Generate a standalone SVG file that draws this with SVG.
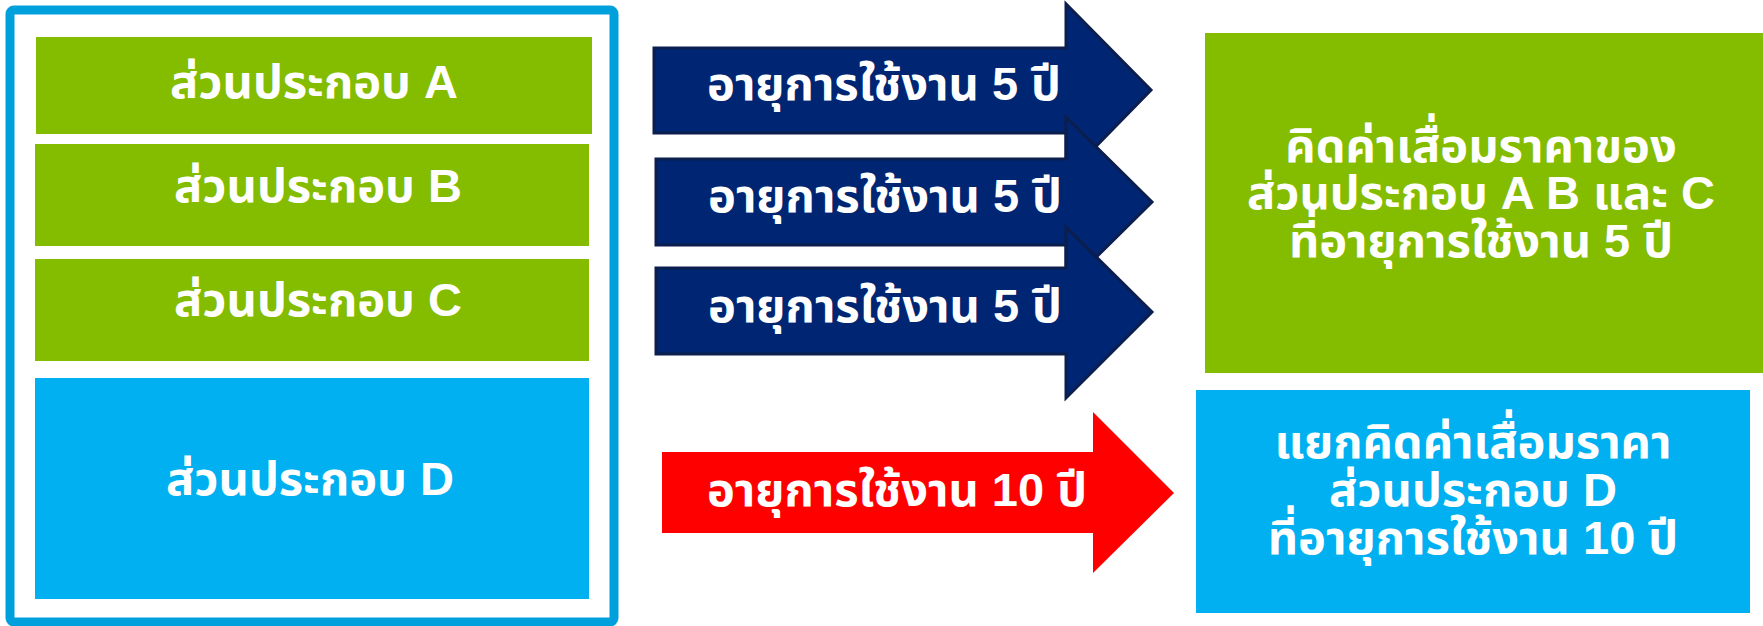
<svg xmlns="http://www.w3.org/2000/svg" width="1763" height="626" viewBox="0 0 1763 626">
<style>
.t{font-family:"Liberation Sans","Noto Sans Thai","Noto Sans",sans-serif;font-weight:bold;fill:#fff;text-anchor:middle;font-size:47px}
.g{fill:#84BC00}
.b{fill:#00B0F0}
.nav{fill:#002673;stroke:#0B1E4E;stroke-width:3}
.red{fill:#FF0000}
</style>
<rect width="1763" height="626" fill="#fff"/>
<g id="frame"><rect x="10" y="10" width="604" height="612" rx="4" fill="none" stroke="#00A0DC" stroke-width="9"/></g>
<g id="compA"><rect class="g" x="36" y="37" width="556" height="97"/><text class="t" x="314" y="98">ส่วนประกอบ A</text></g>
<g id="compB"><rect class="g" x="35" y="144" width="554" height="102"/><text class="t" x="318" y="202">ส่วนประกอบ B</text></g>
<g id="compC"><rect class="g" x="35" y="259" width="554" height="102"/><text class="t" x="318" y="316">ส่วนประกอบ C</text></g>
<g id="compD"><rect class="b" x="35" y="378" width="554" height="221"/><text class="t" x="310" y="495">ส่วนประกอบ D</text></g>
<g id="connectors">
<g id="arrow1"><path class="nav" d="M654 48H1066V4L1151 90L1066 177V133H654Z"/><text class="t" x="884" y="100">อายุการใช้งาน 5 ปี</text></g>
<g id="arrow2"><path class="nav" d="M656 159H1066V117L1152 202L1066 287V245H656Z"/><text class="t" x="885" y="212">อายุการใช้งาน 5 ปี</text></g>
<g id="arrow3"><path class="nav" d="M656 268H1066V227L1152 312L1066 398V354H656Z"/><text class="t" x="885" y="322">อายุการใช้งาน 5 ปี</text></g>
<g id="arrow4"><path class="red" d="M662 452H1093V412L1174 493L1093 573V533H662Z"/><text class="t" x="897" y="506">อายุการใช้งาน 10 ปี</text></g>
</g>
<g id="resultABC"><rect class="g" x="1205" y="33" width="558" height="340"/>
<text class="t" x="1481" y="162">คิดค่าเสื่อมราคาของ</text>
<text class="t" x="1481" y="209">ส่วนประกอบ A B และ C</text>
<text class="t" x="1481" y="257">ที่อายุการใช้งาน 5 ปี</text></g>
<g id="resultD"><rect class="b" x="1196" y="390" width="554" height="223"/>
<text class="t" x="1473" y="458">แยกคิดค่าเสื่อมราคา</text>
<text class="t" x="1473" y="506">ส่วนประกอบ D </text>
<text class="t" x="1473" y="554">ที่อายุการใช้งาน 10 ปี</text></g>
</svg>
